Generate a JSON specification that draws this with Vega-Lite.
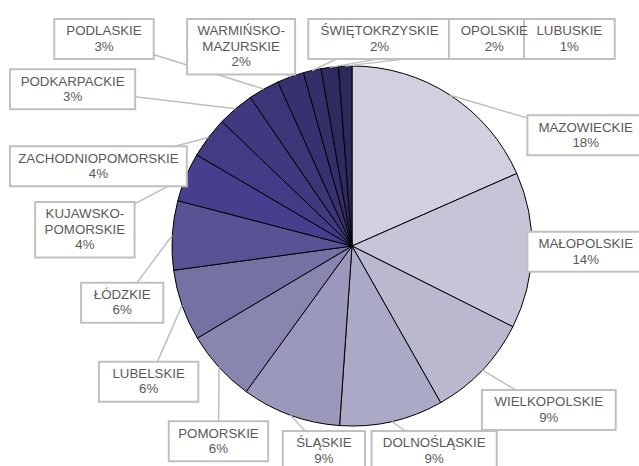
{
  "$schema": "https://vega.github.io/schema/vega-lite/v6.json",
  "width": 639,
  "height": 466,
  "autosize": {"type": "none"},
  "padding": 0,
  "background": "white",
  "config": {"view": {"stroke": null}},
  "data": {
    "values": [
      {"name": "MAZOWIECKIE", "share": 18.4},
      {"name": "MAŁOPOLSKIE", "share": 14.0},
      {"name": "WIELKOPOLSKIE", "share": 9.4},
      {"name": "DOLNOŚLĄSKIE", "share": 9.3},
      {"name": "ŚLĄSKIE", "share": 8.9},
      {"name": "POMORSKIE", "share": 6.45},
      {"name": "LUBELSKIE", "share": 6.4},
      {"name": "ŁÓDZKIE", "share": 6.2},
      {"name": "KUJAWSKO-POMORSKIE", "share": 4.4},
      {"name": "ZACHODNIOPOMORSKIE", "share": 3.7},
      {"name": "PODKARPACKIE", "share": 3.3},
      {"name": "PODLASKIE", "share": 2.8},
      {"name": "WARMIŃSKO-MAZURSKIE", "share": 2.4},
      {"name": "ŚWIĘTOKRZYSKIE", "share": 1.6},
      {"name": "OPOLSKIE", "share": 1.55},
      {"name": "LUBUSKIE", "share": 1.2}
    ]
  },
  "transform": [
    {"calculate": "replace(datum.name, '-', '-\\n') + '\\n' + format(datum.share, '.0f') + '%'", "as": "txt"},
    {"calculate": "split(datum.txt, '\\n')", "as": "lines"},
    {"calculate": "datum.lines.length", "as": "nl"},
    {"calculate": "max(length(datum.lines[0]), length(datum.lines[1]), datum.nl > 2 ? length(datum.lines[2]) : 0)", "as": "nch"},
    {"calculate": "datum.nch * 8.6 + 22", "as": "bw"},
    {"calculate": "datum.nl * 15.5 + 9", "as": "bh"},
    {"window": [{"op": "sum", "field": "share", "as": "cum"}], "sort": [{"field": "share", "order": "descending"}], "frame": [null, 0]},
    {"joinaggregate": [{"op": "sum", "field": "share", "as": "total"}, {"op": "max", "field": "share", "as": "top"}]},
    {"calculate": "2 * PI * (datum.cum - datum.share / 2) / datum.total", "as": "mid"},
    {"calculate": "datum.mid < 2 * PI * datum.top / datum.total ? datum.mid + 2 * PI : datum.mid", "as": "k"},

    {"calculate": "min(192 + datum.bw / 2 * abs(sin(datum.k)) + datum.bh / 2 * abs(cos(datum.k)) + 400 * max(0, cos(datum.k)), cos(datum.k) > 0.001 ? (227 - datum.bh / 2) / cos(datum.k) : 1e6, cos(datum.k) < -0.001 ? (225 - datum.bh / 2) / -cos(datum.k) : 1e6, sin(datum.k) > 0.001 ? (292 - datum.bw / 2) / sin(datum.k) : 1e6, sin(datum.k) < -0.001 ? (342 - datum.bw / 2) / -sin(datum.k) : 1e6)", "as": "r0"},
    {"calculate": "0.025 + min(datum.bw / max(1, datum.r0 * abs(cos(datum.k))), datum.bh / max(1, datum.r0 * abs(sin(datum.k))))", "as": "fp"},
    {"window": [{"op": "sum", "field": "fp", "as": "cfp"}], "sort": [{"field": "k", "order": "ascending"}], "frame": [null, 0]},
    {"calculate": "datum.k - datum.cfp + datum.fp / 2", "as": "d"},
    {"window": [{"op": "max", "field": "d", "as": "dm"}], "sort": [{"field": "k", "order": "ascending"}], "frame": [null, 0]},
    {"joinaggregate": [{"op": "sum", "field": "fp", "as": "tfp"}]},
    {"calculate": "datum.tfp - datum.cfp + datum.fp / 2", "as": "e"},
    {"calculate": "datum.k + datum.e", "as": "g"},
    {"window": [{"op": "min", "field": "g", "as": "gm"}], "sort": [{"field": "k", "order": "descending"}], "frame": [null, 0]},
    {"calculate": "0.7 * (datum.cfp - datum.fp / 2 + datum.dm) + 0.3 * (datum.gm - datum.e)", "as": "la1"},

    {"calculate": "min(192 + datum.bw / 2 * abs(sin(datum.la1)) + datum.bh / 2 * abs(cos(datum.la1)) + 400 * max(0, cos(datum.la1)), cos(datum.la1) > 0.001 ? (227 - datum.bh / 2) / cos(datum.la1) : 1e6, cos(datum.la1) < -0.001 ? (225 - datum.bh / 2) / -cos(datum.la1) : 1e6, sin(datum.la1) > 0.001 ? (292 - datum.bw / 2) / sin(datum.la1) : 1e6, sin(datum.la1) < -0.001 ? (342 - datum.bw / 2) / -sin(datum.la1) : 1e6)", "as": "r1"},
    {"calculate": "0.025 + min(datum.bw / max(1, datum.r1 * abs(cos(datum.la1))), datum.bh / max(1, datum.r1 * abs(sin(datum.la1))))", "as": "fq"},
    {"window": [{"op": "sum", "field": "fq", "as": "cfq"}], "sort": [{"field": "k", "order": "ascending"}], "frame": [null, 0]},
    {"calculate": "datum.k - datum.cfq + datum.fq / 2", "as": "d2"},
    {"window": [{"op": "max", "field": "d2", "as": "dm2"}], "sort": [{"field": "k", "order": "ascending"}], "frame": [null, 0]},
    {"joinaggregate": [{"op": "sum", "field": "fq", "as": "tfq"}]},
    {"calculate": "datum.tfq - datum.cfq + datum.fq / 2", "as": "e2"},
    {"calculate": "datum.k + datum.e2", "as": "g2"},
    {"window": [{"op": "min", "field": "g2", "as": "gm2"}], "sort": [{"field": "k", "order": "descending"}], "frame": [null, 0]},
    {"calculate": "0.7 * (datum.cfq - datum.fq / 2 + datum.dm2) + 0.3 * (datum.gm2 - datum.e2)", "as": "la"},

    {"calculate": "min(192 + datum.bw / 2 * abs(sin(datum.la)) + datum.bh / 2 * abs(cos(datum.la)) + 400 * max(0, cos(datum.la)), cos(datum.la) > 0.001 ? (227 - datum.bh / 2) / cos(datum.la) : 1e6, cos(datum.la) < -0.001 ? (225 - datum.bh / 2) / -cos(datum.la) : 1e6, sin(datum.la) > 0.001 ? (292 - datum.bw / 2) / sin(datum.la) : 1e6, sin(datum.la) < -0.001 ? (342 - datum.bw / 2) / -sin(datum.la) : 1e6)", "as": "rl"},
    {"calculate": "datum.rl * sin(datum.la)", "as": "lx"},
    {"calculate": "datum.rl * cos(datum.la)", "as": "ly"},
    {"calculate": "datum.ly + (datum.nl - 1) * 15.5 / 2", "as": "ty"},
    {"calculate": "180 * sin(datum.mid)", "as": "ex"},
    {"calculate": "180 * cos(datum.mid)", "as": "ey"},
    {"calculate": "datum.lx - datum.bw / 2", "as": "bx1"},
    {"calculate": "datum.lx + datum.bw / 2", "as": "bx2"},
    {"calculate": "datum.ly - datum.bh / 2", "as": "by1"},
    {"calculate": "datum.ly + datum.bh / 2", "as": "by2"}
  ],
  "layer": [
    {
      "mark": {"type": "arc", "outerRadius": 180, "stroke": "#000000", "strokeWidth": 1},
      "encoding": {
        "x": {"datum": 0, "type": "quantitative", "scale": {"domain": [-352, 287], "nice": false, "zero": false}, "axis": null},
        "y": {"datum": 0, "type": "quantitative", "scale": {"domain": [-220, 246], "nice": false, "zero": false}, "axis": null},
        "theta": {"field": "share", "type": "quantitative", "stack": true},
        "order": {"field": "share", "sort": "descending"},
        "color": {
          "field": "name",
          "type": "nominal",
          "legend": null,
          "scale": {
            "domain": ["MAZOWIECKIE", "MAŁOPOLSKIE", "WIELKOPOLSKIE", "DOLNOŚLĄSKIE", "ŚLĄSKIE", "POMORSKIE", "LUBELSKIE", "ŁÓDZKIE", "KUJAWSKO-POMORSKIE", "ZACHODNIOPOMORSKIE", "PODKARPACKIE", "PODLASKIE", "WARMIŃSKO-MAZURSKIE", "ŚWIĘTOKRZYSKIE", "OPOLSKIE", "LUBUSKIE"],
            "range": ["#d0d0de", "#c5c5d7", "#b9b8cf", "#aaa9c6", "#9a98bb", "#8886af", "#7471a3", "#575395", "#453f8d", "#423c86", "#3f397f", "#3b3677", "#37326f", "#332f68", "#2f2b61", "#2b285a"]
          }
        }
      }
    },
    {
      "mark": {"type": "rule", "stroke": "#bfbfbf", "strokeWidth": 1.5},
      "encoding": {
        "x": {"field": "ex", "type": "quantitative", "scale": {"domain": [-352, 287], "nice": false, "zero": false}, "axis": null},
        "y": {"field": "ey", "type": "quantitative", "scale": {"domain": [-220, 246], "nice": false, "zero": false}, "axis": null},
        "x2": {"field": "lx"},
        "y2": {"field": "ly"}
      }
    },
    {
      "mark": {"type": "rect", "fill": "#ffffff", "stroke": "#c0c0c0", "strokeWidth": 2},
      "encoding": {
        "x": {"field": "bx1", "type": "quantitative", "scale": {"domain": [-352, 287], "nice": false, "zero": false}, "axis": null},
        "x2": {"field": "bx2"},
        "y": {"field": "by1", "type": "quantitative", "scale": {"domain": [-220, 246], "nice": false, "zero": false}, "axis": null},
        "y2": {"field": "by2"}
      }
    },
    {
      "mark": {"type": "text", "lineBreak": "\n", "font": "Liberation Sans", "fontSize": 13.3, "fill": "#595959", "lineHeight": 15.5, "align": "center", "baseline": "middle"},
      "encoding": {
        "x": {"field": "lx", "type": "quantitative", "scale": {"domain": [-352, 287], "nice": false, "zero": false}, "axis": null},
        "y": {"field": "ty", "type": "quantitative", "scale": {"domain": [-220, 246], "nice": false, "zero": false}, "axis": null},
        "text": {"field": "txt", "type": "nominal"}
      }
    }
  ]
}
